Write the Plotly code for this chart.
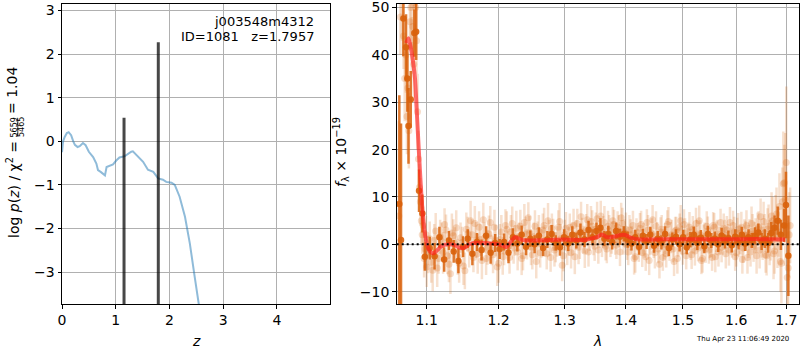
import plotly.graph_objects as go

# ---------------- left panel: p(z) ----------------
z_grid = [0.0, 0.02, 0.05, 0.09, 0.124, 0.17, 0.21, 0.24, 0.29, 0.33, 0.39, 0.44, 0.50, 0.58,
          0.64, 0.67, 0.72, 0.76, 0.80, 0.83, 0.89, 0.95, 1.01, 1.07, 1.17, 1.23, 1.29, 1.32,
          1.42, 1.51, 1.60, 1.70, 1.79, 1.88, 1.94, 2.04, 2.10, 2.19, 2.29, 2.38, 2.47, 2.55, 2.64]
logpz = [-0.25, 0.0, 0.1, 0.19, 0.21, 0.14, 0.0, -0.08, -0.13, -0.11, -0.04, -0.09, -0.24, -0.36,
         -0.51, -0.66, -0.70, -0.74, -0.78, -0.59, -0.56, -0.53, -0.44, -0.37, -0.34, -0.28, -0.24, -0.23,
         -0.36, -0.47, -0.65, -0.70, -0.85, -0.88, -0.93, -0.95, -1.0, -1.27, -1.73, -2.34, -3.1, -3.73, -4.5]
peak_z = [1.155, 1.793]
peak_val = [0.54, 2.27]
bar_floor = -10

z_ticks = [0, 1, 2, 3, 4]
lp_ticks = [-3, -2, -1, 0, 1, 2, 3]

# ---------------- right panel: spectrum ----------------
lam_l0 = [1.0635, 1.0655, 1.0675, 1.0695, 1.0710, 1.0725, 1.0740, 1.0752, 1.0765, 1.0778, 1.0790,
          1.0802, 1.0815, 1.0828, 1.0840, 1.0852, 1.0865, 1.0878, 1.0890, 1.0902, 1.0915, 1.0928,
          1.0940, 1.0953, 1.0965, 1.0978, 1.0990]
flx_l0 = [6, 48, 52, 44, 35, 40, 27, 33, 24, 47, 50, 42, 46, 38, 51, 50, 43, 28, 18, 12, 9, 5, 2, 4, -3, -1, 2]
err_l0 = [20, 8, 9, 7, 9, 8, 8, 7, 8, 6, 7, 6, 6, 7, 6, 6, 7, 8, 6, 5, 5, 5, 4, 4, 4, 4, 4]

lam_la = [1.100, 1.104, 1.108, 1.112, 1.116, 1.120, 1.124, 1.128, 1.132, 1.136,
          1.140, 1.144, 1.148, 1.152, 1.156, 1.160, 1.164, 1.168, 1.172, 1.176,
          1.180, 1.184, 1.188, 1.192, 1.196, 1.200, 1.204, 1.208, 1.212, 1.216,
          1.220, 1.224, 1.228, 1.232, 1.236, 1.240, 1.244, 1.248, 1.252, 1.256,
          1.260, 1.264, 1.268, 1.272, 1.276, 1.280, 1.284, 1.288, 1.292, 1.296,
          1.300, 1.304, 1.308, 1.312, 1.316, 1.320, 1.324, 1.328, 1.332, 1.336,
          1.340, 1.344, 1.348, 1.352, 1.356, 1.360, 1.364, 1.368, 1.372, 1.376,
          1.380, 1.384, 1.388, 1.392, 1.396, 1.400, 1.404, 1.408, 1.412, 1.416,
          1.420, 1.424, 1.428, 1.432, 1.436, 1.440, 1.444, 1.448, 1.452, 1.456,
          1.460, 1.464, 1.468, 1.472, 1.476, 1.480, 1.484, 1.488, 1.492, 1.496,
          1.500, 1.504, 1.508, 1.512, 1.516, 1.520, 1.524, 1.528, 1.532, 1.536,
          1.540, 1.544, 1.548, 1.552, 1.556, 1.560, 1.564, 1.568, 1.572, 1.576,
          1.580, 1.584, 1.588, 1.592, 1.596, 1.600, 1.604, 1.608, 1.612, 1.616,
          1.620, 1.624, 1.628, 1.632, 1.636, 1.640, 1.644, 1.648, 1.652, 1.656,
          1.660, 1.664, 1.668, 1.672, 1.676, 1.680, 1.684, 1.688, 1.692, 1.696,
          1.700, 1.704, 1.708]
flx_la = [-4.8, 1.2, -5.5, 2.8, -3.0, 0.6, 4.2, -2.4, -6.2, 1.8,
          3.5, -4.0, 0.4, -5.6, 2.2, 5.0, -2.8, 0.9, 3.6, -3.4,
          1.4, -0.6, 4.6, -2.2, 0.8, -4.0, 2.6, -1.4, 3.2, -2.8,
          4.4, 0.8, -1.6, 3.8, -2.4, 2.2, 5.6, -0.6, 1.6, -3.6,
          2.8, 0.2, 4.0, -2.0, 1.4, 3.4, -1.2, 0.6, 4.8, -4.4,
          2.0, -0.8, 3.6, 1.2, -2.6, 4.4, 0.4, 2.6, -1.4, 5.2,
          1.6, 3.8, -0.4, 5.4, 2.2, 0.6, 4.6, -1.0, 3.0, 1.4,
          4.2, -0.2, 2.8, 5.6, 0.8, 3.2, -1.6, 2.0, 4.0, -2.6,
          1.6, 3.4, -1.8, 0.6, 4.6, -3.4, 2.2, 0.0, 3.8, -1.0,
          2.6, -2.8, 1.2, 4.2, -0.6, 2.0, -3.6, 3.0, 0.4, 5.0,
          -1.4, 2.4, 0.6, 3.6, -2.2, 1.0, 4.4, -0.8, 2.0, -3.0,
          1.6, 3.8, -1.2, 0.4, 4.0, -2.6, 2.2, 0.8, -0.6, 3.4,
          -2.0, 1.4, 4.6, 0.2, 2.6, -1.8, 3.2, 1.0, -3.2, 2.0,
          4.0, 0.6, -1.6, 2.8, 1.4, -2.4, 3.6, 5.8, 0.2, 2.4,
          -2.4, 3.8, 1.0, 5.0, -1.4, 6.4, 2.6, -3.6, 9.0, 13.0,
          17.3, -5.0, 4.0]
err_la = [4.2, 3.6, 4.4, 3.8, 3.2, 4.0, 3.4, 3.9, 4.3, 3.5,
          3.7, 4.1, 3.3, 3.9, 3.6, 4.2, 3.1, 3.8, 3.4, 4.0,
          3.2, 3.7, 3.5, 3.9, 3.3, 4.1, 3.6, 3.0, 3.8, 3.4,
          3.6, 3.2, 3.9, 3.5, 3.1, 3.7, 3.3, 3.8, 3.0, 3.6,
          3.4, 3.0, 3.7, 3.3, 3.8, 3.1, 3.5, 3.2, 3.9, 3.4,
          3.2, 3.6, 2.9, 3.4, 3.7, 3.1, 3.5, 3.0, 3.6, 3.3,
          3.0, 3.4, 3.1, 3.6, 2.9, 3.3, 3.5, 3.0, 3.2, 3.4,
          3.1, 2.9, 3.4, 3.2, 3.0, 3.5, 2.8, 3.3, 3.1, 3.4,
          2.9, 3.2, 3.0, 3.4, 2.8, 3.1, 3.3, 2.9, 3.2, 3.0,
          3.1, 2.8, 3.3, 3.0, 2.9, 3.2, 3.1, 2.8, 3.0, 3.3,
          2.9, 3.1, 2.8, 3.2, 3.0, 2.9, 3.3, 2.8, 3.1, 3.0,
          3.0, 3.2, 2.9, 3.1, 2.8, 3.3, 3.0, 2.9, 3.2, 3.1,
          3.1, 2.9, 3.3, 3.0, 3.2, 2.9, 3.4, 3.1, 3.0, 3.3,
          3.2, 3.5, 3.1, 3.6, 3.3, 3.8, 3.4, 3.9, 3.5, 4.0,
          4.2, 4.6, 4.4, 5.0, 4.8, 5.6, 5.2, 6.4, 7.2, 8.0,
          16.0, 9.5, 8.0]

lam_lb = [1.102, 1.106, 1.110, 1.114, 1.118, 1.122, 1.126, 1.130, 1.134, 1.138,
          1.142, 1.146, 1.150, 1.154, 1.158, 1.162, 1.166, 1.170, 1.174, 1.178,
          1.182, 1.186, 1.190, 1.194, 1.198, 1.202, 1.206, 1.210, 1.214, 1.218,
          1.222, 1.226, 1.230, 1.234, 1.238, 1.242, 1.246, 1.250, 1.254, 1.258,
          1.262, 1.266, 1.270, 1.274, 1.278, 1.282, 1.286, 1.290, 1.294, 1.298,
          1.302, 1.306, 1.310, 1.314, 1.318, 1.322, 1.326, 1.330, 1.334, 1.338,
          1.342, 1.346, 1.350, 1.354, 1.358, 1.362, 1.366, 1.370, 1.374, 1.378,
          1.382, 1.386, 1.390, 1.394, 1.398, 1.402, 1.406, 1.410, 1.414, 1.418,
          1.422, 1.426, 1.430, 1.434, 1.438, 1.442, 1.446, 1.450, 1.454, 1.458,
          1.462, 1.466, 1.470, 1.474, 1.478, 1.482, 1.486, 1.490, 1.494, 1.498,
          1.502, 1.506, 1.510, 1.514, 1.518, 1.522, 1.526, 1.530, 1.534, 1.538,
          1.542, 1.546, 1.550, 1.554, 1.558, 1.562, 1.566, 1.570, 1.574, 1.578,
          1.582, 1.586, 1.590, 1.594, 1.598, 1.602, 1.606, 1.610, 1.614, 1.618,
          1.622, 1.626, 1.630, 1.634, 1.638, 1.642, 1.646, 1.650, 1.654, 1.658,
          1.662, 1.666, 1.670, 1.674, 1.678, 1.682, 1.686, 1.690, 1.694, 1.698,
          1.702, 1.706]
flx_lb = [-2.2, -3.8, 0.8, -5.0, 1.6, -1.8, 3.0, -4.2, 2.4, 0.2,
          -2.6, 1.4, -4.6, 3.2, -1.0, 2.0, 4.4, -2.0, 1.0, 5.2,
          -3.0, 2.2, -1.2, 3.6, -4.8, 1.0, -2.6, 4.0, -0.4, 2.6,
          -0.8, 3.4, 1.6, -3.0, 4.6, 0.0, 2.4, -2.2, 3.8, 1.0,
          -1.8, 3.0, 0.8, 5.0, -2.8, 2.0, -0.6, 3.6, 1.2, -2.4,
          3.4, 0.6, -1.8, 4.0, 2.0, -0.6, 5.8, 1.0, 3.0, -1.6,
          4.8, 0.8, 3.2, -1.2, 6.0, 2.6, -0.4, 3.8, 0.4, 5.0,
          1.0, 3.6, -1.6, 4.4, 2.4, -0.2, 3.0, 0.8, -3.0, 2.6,
          -0.6, 4.2, 1.2, -2.6, 3.0, 0.6, 5.2, -1.8, 1.8, -4.2,
          3.2, 0.0, -2.0, 4.8, 1.4, -1.0, 2.8, -3.0, 3.6, 0.8,
          4.2, -2.4, 1.6, 0.0, 3.2, -1.4, 2.2, 5.0, -3.4, 1.2,
          -1.0, 2.8, 0.4, -2.8, 3.6, 1.6, -1.6, 4.6, 0.8, 2.0,
          3.0, -1.2, 0.6, 4.0, -2.6, 2.4, 0.2, 3.6, -0.8, 1.8,
          -2.8, 2.2, 4.4, -0.4, 1.8, 3.2, -1.2, 0.8, 4.8, -2.2,
          3.2, 0.4, 6.0, -2.0, 4.6, 1.2, 8.0, -4.0, 12.8, 9.5,
          -7.0, 2.0]
err_lb = [3.9, 4.3, 3.5, 4.0, 3.6, 4.4, 3.3, 3.8, 4.1, 3.4,
          3.8, 3.2, 4.0, 3.5, 3.9, 3.3, 3.7, 4.2, 3.4, 3.6,
          3.5, 3.9, 3.2, 3.7, 4.0, 3.3, 3.8, 3.4, 3.1, 3.6,
          3.3, 3.7, 3.0, 3.5, 3.9, 3.2, 3.6, 3.1, 3.4, 3.8,
          3.1, 3.5, 3.3, 3.7, 3.0, 3.4, 3.2, 3.6, 3.1, 3.3,
          3.4, 3.0, 3.3, 3.5, 3.1, 3.6, 3.2, 2.9, 3.4, 3.1,
          3.3, 3.1, 3.5, 2.9, 3.2, 3.4, 3.0, 3.3, 3.1, 2.9,
          3.2, 3.4, 3.0, 3.3, 2.9, 3.1, 3.2, 3.0, 3.4, 2.9,
          3.1, 2.9, 3.3, 3.0, 3.2, 2.8, 3.1, 3.3, 2.9, 3.0,
          3.0, 3.2, 2.9, 3.1, 3.3, 2.8, 3.0, 3.2, 2.9, 3.1,
          3.2, 2.9, 3.0, 3.3, 2.8, 3.1, 3.0, 3.2, 2.9, 3.0,
          2.9, 3.1, 3.3, 2.8, 3.0, 3.2, 3.1, 2.9, 3.0, 3.2,
          3.0, 3.3, 2.9, 3.1, 3.0, 3.2, 2.9, 3.3, 3.1, 3.2,
          3.4, 3.1, 3.6, 3.3, 3.7, 3.5, 3.9, 3.6, 4.2, 3.8,
          4.4, 4.8, 5.0, 5.4, 5.8, 6.2, 7.0, 8.5, 11.0, 14.0,
          12.0, 9.0]

lam_d = [1.0641, 1.0663, 1.0693, 1.0728, 1.0745, 1.0760, 1.0789, 1.0836, 1.0860, 1.0898, 1.0942,
         1.0975, 1.1040, 1.1105, 1.1170, 1.1235, 1.1300, 1.1365, 1.1430, 1.1495, 1.1560, 1.1625,
         1.1690, 1.1755, 1.1820, 1.1885, 1.1950,
         1.2015, 1.2080, 1.2145, 1.2210, 1.2275, 1.2340, 1.2405, 1.2470, 1.2535, 1.2600, 1.2665,
         1.2730, 1.2795, 1.2860, 1.2925,
         1.2990, 1.3055, 1.3120, 1.3185, 1.3250, 1.3315, 1.3380, 1.3445, 1.3510, 1.3575, 1.3640,
         1.3705, 1.3770, 1.3835, 1.3900,
         1.3965, 1.4030, 1.4095, 1.4160, 1.4225, 1.4290, 1.4355, 1.4420, 1.4485, 1.4550, 1.4615,
         1.4680, 1.4745, 1.4810, 1.4875, 1.4940,
         1.5005, 1.5070, 1.5135, 1.5200, 1.5265, 1.5330, 1.5395, 1.5460, 1.5525, 1.5590, 1.5655,
         1.5720, 1.5785, 1.5850, 1.5915,
         1.5980, 1.6045, 1.6110, 1.6175, 1.6240, 1.6305, 1.6370, 1.6435, 1.6500, 1.6565, 1.6630,
         1.6695, 1.6760, 1.6825, 1.6890, 1.6955, 1.6994, 1.7043]
flx_d = [8.5, 0.9, 47.7, 41.6, 35.0, 25.0, 30.6, 44.6, 44.9, 11.3, 6.5,
         -2.6, -0.8, -2.5, 1.5, -3.2, 0.8, -1.5, -3.5, -0.5, 1.2, -2.0,
         0.5, -1.2, 1.8, -1.8, 0.3,
         -1.0, 0.5, -1.8, 1.5, 0.2, 2.0, -0.5, 1.2, 0.0, 1.8, -0.8,
         1.0, 2.2, 0.3, -0.6,
         1.5, 0.2, 2.0, 0.8, 2.5, 1.0, 3.0, 1.5, 2.8, 3.5, 1.2,
         2.2, 0.5, 2.8, 1.6,
         2.2, 1.0, 0.2, 1.5, -0.5, 1.8, 0.6, 2.0, -0.3, 1.2, 0.4,
         2.2, -0.8, 1.0, 1.6, 0.0,
         1.5, -0.6, 1.0, 2.0, 0.3, 1.4, -0.4, 2.2, 0.8, 1.2, 0.0,
         1.8, 0.6, 1.3, -0.2,
         1.6, 0.4, 2.0, 0.2, 1.5, 0.8, 1.8, 2.5, 0.6, 1.2, 0.3,
         2.4, 3.5, 5.0, 2.0, 4.0, 8.3, -2.4]
err_d = [23.0, 24.6, 8.0, 7.0, 7.0, 8.0, 6.0, 5.0, 6.0, 4.5, 4.0,
         3.0, 2.4, 2.8, 2.2, 2.6, 2.0, 2.4, 2.6, 2.2, 2.0, 2.4,
         1.9, 2.2, 2.0, 2.3, 1.9,
         2.1, 1.8, 2.2, 1.9, 1.7, 2.0, 1.8, 1.7, 1.9, 1.8, 1.7,
         1.8, 1.9, 1.6, 1.8,
         1.7, 1.6, 1.8, 1.7, 1.9, 1.6, 2.0, 1.7, 1.8, 2.0, 1.6,
         1.7, 1.6, 1.8, 1.7,
         1.6, 1.7, 1.5, 1.6, 1.7, 1.5, 1.6, 1.7, 1.5, 1.6, 1.5,
         1.6, 1.7, 1.5, 1.6, 1.5,
         1.6, 1.5, 1.6, 1.7, 1.5, 1.6, 1.5, 1.7, 1.6, 1.5, 1.6,
         1.7, 1.5, 1.6, 1.5,
         1.6, 1.5, 1.7, 1.6, 1.7, 1.6, 1.8, 1.9, 1.8, 2.0, 2.1,
         2.3, 2.6, 3.0, 3.2, 3.5, 7.0, 8.5]

lam_m = [1.073, 1.076, 1.079, 1.0815, 1.0845, 1.0865, 1.0888, 1.091, 1.0933, 1.0955, 1.098, 1.100,
         1.103, 1.1065, 1.1085, 1.111, 1.115, 1.119, 1.124, 1.130, 1.137, 1.142, 1.148, 1.153, 1.158,
         1.164, 1.171, 1.180, 1.190, 1.200, 1.206, 1.211, 1.215, 1.219, 1.224, 1.228, 1.233, 1.242,
         1.266, 1.300, 1.330, 1.342, 1.352, 1.360, 1.368, 1.379, 1.389, 1.396, 1.402, 1.408, 1.419,
         1.465, 1.525, 1.588, 1.640, 1.660, 1.698]
flx_m = [42.5, 43.5, 41.5, 39.0, 35.0, 29.0, 22.0, 15.5, 9.4, 5.0, 1.8, 0.2,
         -1.2, -1.8, -1.9, -1.7, -1.1, -0.5, -0.1, 0.0, -0.1, -0.5, -0.85, -0.6, 0.0,
         0.3, 0.35, 0.3, 0.2, 0.0, -0.3, -0.6, -0.1, 0.8, 1.5, 1.3, 1.0, 0.8,
         0.85, 1.0, 0.9, 1.2, 1.5, 2.1, 1.5, 1.6, 1.9, 2.0, 1.8, 1.4, 1.05,
         1.05, 1.05, 1.05, 1.1, 1.05, 1.0]

lam_ticks = [1.1, 1.2, 1.3, 1.4, 1.5, 1.6, 1.7]
flux_ticks = [-10, 0, 10, 20, 30, 40, 50]

# ---------------- figure ----------------
W, H = 800, 350
ORANGE = "217,98,12"
FONT = "DejaVu Sans"

fig = go.Figure()

fig.add_trace(go.Scatter(x=z_grid, y=logpz, mode="lines", xaxis="x", yaxis="y",
                         line=dict(color="rgba(31,119,180,0.5)", width=2), showlegend=False))
bx, by = [], []
for zz, vv in zip(peak_z, peak_val):
    bx += [zz, zz, None]
    by += [bar_floor, vv, None]
fig.add_trace(go.Scatter(x=bx, y=by, mode="lines", xaxis="x", yaxis="y",
                         line=dict(color="rgba(0,0,0,0.72)", width=3), showlegend=False))

light_sets = [(lam_l0, flx_l0, err_l0), (lam_la, flx_la, err_la), (lam_lb, flx_lb, err_lb)]
for lx, ly, le in light_sets:
    fig.add_trace(go.Scatter(
        x=lx, y=ly, mode="markers", xaxis="x2", yaxis="y2", showlegend=False,
        marker=dict(color=f"rgba({ORANGE},0.22)", size=7, line=dict(width=0)),
        error_y=dict(type="data", array=le, visible=True, thickness=2.5, width=0,
                     color=f"rgba({ORANGE},0.2)")))

fig.add_trace(go.Scatter(
    x=lam_d, y=flx_d, mode="markers", xaxis="x2", yaxis="y2", showlegend=False,
    marker=dict(color=f"rgba({ORANGE},0.92)", size=6.5, line=dict(width=0)),
    error_y=dict(type="data", array=err_d, visible=True, thickness=2.5, width=0,
                 color=f"rgba({ORANGE},0.85)")))

fig.add_trace(go.Scatter(x=lam_m, y=flx_m, mode="lines", xaxis="x2", yaxis="y2", showlegend=False,
                         line=dict(color="rgba(255,30,30,0.65)", width=4, shape="spline", smoothing=0.6)))

fig.add_shape(type="line", xref="x2 domain", x0=0, x1=1, yref="y2", y0=0, y1=0,
              line=dict(color="black", width=2, dash="2px,3px"), layer="above")

yb, yt = 1 - 304 / H, 1 - 3.5 / H
axis_common = dict(showline=True, linecolor="black", linewidth=1, mirror=True,
                   showgrid=True, gridcolor="#b0b0b0", gridwidth=1, zeroline=False,
                   ticks="outside", ticklen=3.5, tickwidth=0.8, tickcolor="black",
                   automargin=False, ticklabeloverflow="allow",
                   tickfont=dict(family=FONT, size=14, color="black"))

fig.update_layout(
    width=W, height=H, margin=dict(l=0, r=0, t=0, b=0, pad=0), autosize=False,
    paper_bgcolor="white", plot_bgcolor="white", showlegend=False,
    xaxis=dict(domain=[62 / W, 330 / W], anchor="y", range=[0, 4.99],
               tickvals=z_ticks, ticktext=[str(v) for v in z_ticks], **axis_common),
    yaxis=dict(domain=[yb, yt], anchor="x", range=[-3.73, 3.16],
               tickvals=lp_ticks, **axis_common),
    xaxis2=dict(domain=[396.7 / W, 799.3 / W], anchor="y2", type="log",
                range=[0.0256, 0.2373], tickvals=lam_ticks,
                ticktext=[f"{v:.1f}" for v in lam_ticks], **axis_common),
    yaxis2=dict(domain=[yb, yt], anchor="x2", range=[-12.6, 50.85],
                tickvals=flux_ticks, **axis_common),
)

def px(xp, yp):
    return xp / W, 1 - yp / H

ann_font = dict(family=FONT, size=13, color="black")
lab_font = dict(family=FONT, size=14, color="black")
frac_font = dict(family=FONT, size=8, color="black")

x0, y0 = px(316, 21)
fig.add_annotation(text="j003548m4312", xref="paper", yref="paper", x=x0, y=y0,
                   xanchor="right", yanchor="middle", showarrow=False, font=ann_font)
x0, y0 = px(316, 36)
fig.add_annotation(text="ID=1081   z=1.7957", xref="paper", yref="paper", x=x0, y=y0,
                   xanchor="right", yanchor="middle", showarrow=False, font=ann_font)
x0, y0 = px(196, 341)
fig.add_annotation(text="<i>z</i>", xref="paper", yref="paper", x=x0, y=y0,
                   xanchor="center", yanchor="middle", showarrow=False, font=lab_font)
x0, y0 = px(597, 341)
fig.add_annotation(text="<i>λ</i>", xref="paper", yref="paper", x=x0, y=y0,
                   xanchor="center", yanchor="middle", showarrow=False, font=lab_font)

# left y label: log p(z) / chi^2 = 5659/5465 = 1.04  (fraction stacked)
x0, y0 = px(12.5, 139)
fig.add_annotation(text="log <i>p</i>(<i>z</i>) / χ<sup>2</sup> =", xref="paper", yref="paper",
                   x=x0, y=y0, textangle=-90, xanchor="center", yanchor="top",
                   showarrow=False, font=lab_font)
x0, y0 = px(12.5, 116)
fig.add_annotation(text="= 1.04", xref="paper", yref="paper",
                   x=x0, y=y0, textangle=-90, xanchor="center", yanchor="bottom",
                   showarrow=False, font=lab_font)
x0, y0 = px(14.0, 127.5)
fig.add_annotation(text="5659", xref="paper", yref="paper", x=x0, y=y0, textangle=-90,
                   xanchor="center", yanchor="middle", showarrow=False, font=frac_font)
x0, y0 = px(21.5, 127.5)
fig.add_annotation(text="5465", xref="paper", yref="paper", x=x0, y=y0, textangle=-90,
                   xanchor="center", yanchor="middle", showarrow=False, font=frac_font)
fx, fy0 = px(17.8, 118.5)
_, fy1 = px(17.8, 136.5)
fig.add_shape(type="line", xref="paper", yref="paper", x0=fx, x1=fx, y0=fy0, y1=fy1,
              line=dict(color="black", width=0.8))

x0, y0 = px(341, 152)
fig.add_annotation(text="<i>f</i><sub>λ</sub> × 10<sup>−19</sup>",
                   xref="paper", yref="paper", x=x0, y=y0, textangle=-90,
                   xanchor="center", yanchor="middle", showarrow=False, font=lab_font)
x0, y0 = px(742, 339)
fig.add_annotation(text="Thu Apr 23 11:06:49 2020", xref="paper", yref="paper",
                   x=x0, y=y0, xanchor="center", yanchor="middle", showarrow=False,
                   font=dict(family=FONT, size=7, color="black"))

fig.write_html("out.html", config={"displayModeBar": False},
               post_script="document.body.style.margin='0px';document.body.style.overflow='hidden';")
